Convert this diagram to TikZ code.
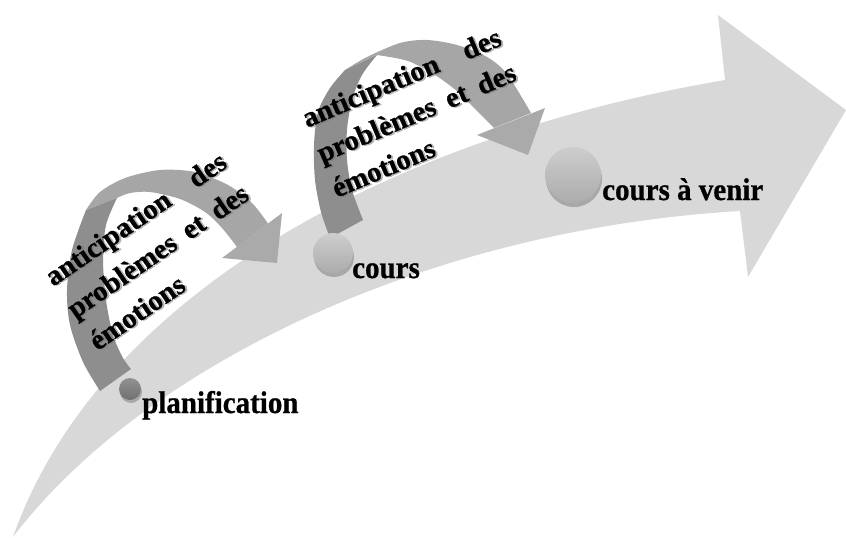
\documentclass[tikz,border=0pt]{standalone}
\usepackage{graphicx}
\usepackage{fontspec}
\setmainfont{Liberation Serif}
\newfontfamily\heavyfont{Liberation Serif}[BoldFeatures={FakeBold=0.8}]
\definecolor{bandgray}{RGB}{216,216,216}
\definecolor{leggray}{RGB}{142,142,142}
\definecolor{arcgray}{RGB}{166,166,166}
\definecolor{headgray}{RGB}{170,170,170}
\definecolor{dotAtop}{RGB}{145,145,145}
\definecolor{dotAbot}{RGB}{112,112,112}
\definecolor{dotBtop}{RGB}{205,205,205}
\definecolor{dotBbot}{RGB}{172,172,172}
\tikzset{
  bigarrow/.style={fill=bandgray},
  legpart/.style={fill=leggray},
  arcpart/.style={fill=arcgray},
  headpart/.style={fill=headgray},
  lbl/.style={font=\fontsize{29}{34}\selectfont\heavyfont\bfseries, inner sep=0pt, anchor=base west},
  rottext/.style={font=\fontsize{28.5}{33}\selectfont\heavyfont\bfseries, inner sep=0pt, anchor=base west, transform shape},
  shadowtext/.style={rottext, text=black!55, opacity=0.5},
  dotshadow/.style={fill=black, opacity=0.22},
  dotnode/.style={circle, inner sep=0pt, draw=none},
}
\newcommand{\justline}[1]{\makebox[213pt][s]{#1}}
\newcommand{\tallbox}[1]{\scalebox{1}[1.08]{#1}}
\begin{document}
\begin{tikzpicture}[x=1pt,y=-1pt]
\useasboundingbox (0,0) rectangle (846,538);
% big ascending arrow
\fill[bigarrow] (13,537) .. controls (100,290) and (400,135) .. (725,80)
  -- (718,15) -- (846,110) -- (748,277) -- (740,211)
  .. controls (420,230) and (140,370) .. (13,537) -- cycle;
% curved arrow 1
\fill[arcpart] plot[smooth] coordinates {(86,210) (100,192) (125,178) (160,170) (195,172) (228,185) (252,203) (268,223.5)}
  -- plot[smooth] coordinates {(237,247) (222,228) (205,212) (180,199) (150,192) (130,193) (117,198)} -- cycle;
\fill[headpart] (282,213) -- (277,263) -- (222,258) -- cycle;
\fill[legpart] plot[smooth] coordinates {(100,391) (83,362) (70,325) (67,290) (72,250) (86,210)}
  -- plot[smooth] coordinates {(117,198) (106,225) (103,260) (106,300) (113,335) (123,358) (131,369)} -- cycle;
% curved arrow 2
\fill[arcpart] plot[smooth] coordinates {(345,70) (367,57) (400,43) (427,40) (457,45) (487,57) (507,74) (531,113)}
  -- plot[smooth] coordinates {(494,128) (478,112) (458,92) (435,75) (408,61) (377,55)} -- cycle;
\fill[headpart] (545,108) -- (528,155) -- (477,135) -- cycle;
\fill[legpart] plot[smooth] coordinates {(330,238) (321,212) (315,180) (314,145) (318,112) (330,88) (345,70)}
  -- plot[smooth] coordinates {(377,55) (362,75) (352,100) (347,130) (347,160) (352,190) (363,220)} -- cycle;
% dots
\fill[dotshadow] (131,392) circle (11);
\node[dotnode, minimum size=22pt, top color=dotAtop, bottom color=dotAbot] (d1) at (130,389) {};
\fill[dotshadow] (334,257) circle (20);
\node[dotnode, minimum size=40pt, top color=dotBtop, bottom color=dotBbot] (d2) at (333,253) {};
\fill[dotshadow] (574,179) circle (28);
\node[dotnode, minimum size=56pt, top color=dotBtop, bottom color=dotBbot] (d3) at (573,175) {};
% labels
\node[lbl] (l1) at (142,413) {\tallbox{planification}};
\node[lbl] (l2) at (352,278) {\tallbox{cours}};
\node[lbl] (l3) at (602,200) {\tallbox{cours à venir}};
% rotated text 1
\begin{scope}[shift={(53,287)}, rotate=34.5]
  \node[shadowtext] (s1a) at (1.5,1.5) {\justline{anticipation des}};
  \node[rottext] (t1a) at (0,0) {\justline{anticipation des}};
  \node[shadowtext] (s1b) at (1.5,40.5) {\justline{problèmes et des}};
  \node[rottext] (t1b) at (0,39) {\justline{problèmes et des}};
  \node[shadowtext] (s1c) at (1.5,79.5) {émotions};
  \node[rottext] (t1c) at (0,78) {émotions};
\end{scope}
% rotated text 2
\begin{scope}[shift={(307,128)}, rotate=23]
  \node[shadowtext] (s2a) at (1.5,1.5) {\justline{anticipation des}};
  \node[rottext] (t2a) at (0,0) {\justline{anticipation des}};
  \node[shadowtext] (s2b) at (1.5,39.5) {\justline{problèmes et des}};
  \node[rottext] (t2b) at (0,38) {\justline{problèmes et des}};
  \node[shadowtext] (s2c) at (1.5,77.5) {émotions};
  \node[rottext] (t2c) at (0,76) {émotions};
\end{scope}
\end{tikzpicture}
\end{document}
